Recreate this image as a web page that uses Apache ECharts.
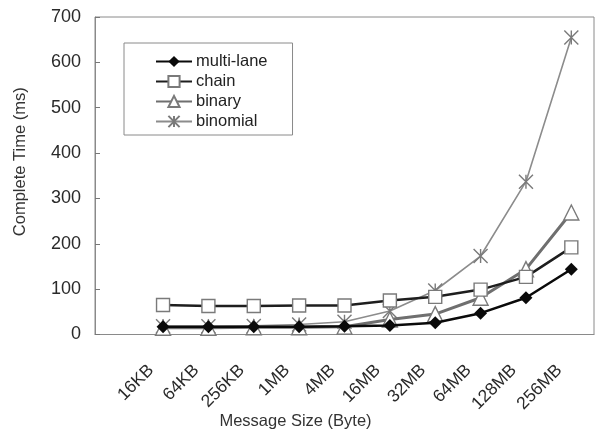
<!DOCTYPE html>
<html>
<head>
<meta charset="utf-8">
<script src="https://cdn.jsdelivr.net/npm/echarts@6/dist/echarts.min.js"></script>
<style>html,body{margin:0;padding:0;background:#fff;}#c{width:595px;height:435px;}</style>
</head>
<body>
<div id="c"></div>
<script>
var sizes = ['16KB', '64KB', '256KB', '1MB', '4MB', '16MB', '32MB', '64MB', '128MB', '256MB'];
var multiLane = [17, 17, 17, 17, 18, 20, 26, 47, 81, 144];
var chain = [65, 63, 63, 64, 64, 75, 83, 99, 127, 192];
var binary = [15, 15, 16, 16, 17, 33, 45, 81, 144, 269];
var binomial = [18, 18, 19, 22, 28, 52, 97, 173, 337, 655];
var yTicks = [0, 100, 200, 300, 400, 500, 600, 700];

var FONT = "'Liberation Sans', Arial, sans-serif";
var starPath = 'path://M0,0 L10,10 M10,0 L0,10 M5,0 L5,10';

function pad(arr) { return [null].concat(arr); }

var chart = echarts.init(document.getElementById('c'), null, { renderer: 'canvas' });
chart.setOption({
  animation: false,
  backgroundColor: '#ffffff',
  textStyle: { fontFamily: FONT },
  grid: { left: 95, right: 1, top: 17, bottom: 100.5, containLabel: false, outerBoundsMode: 'none', show: true, borderColor: '#8a8a8a', borderWidth: 1, backgroundColor: 'transparent' },
  legend: {
    orient: 'vertical',
    left: 124, top: 43,
    padding: [10, 25, 5, 31],
    itemGap: 3,
    itemWidth: 36, itemHeight: 14,
    borderColor: '#8a8a8a', borderWidth: 1,
    backgroundColor: '#fff',
    data: ['multi-lane', 'chain', 'binary', 'binomial'],
    textStyle: { fontSize: 16.5, color: '#222', fontFamily: FONT, padding: [0, 0, 0, -1] }
  },
  xAxis: {
    type: 'category',
    data: [''].concat(sizes),
    boundaryGap: true,
    name: 'Message Size (Byte)',
    nameLocation: 'middle',
    nameGap: 78,
    nameMoveOverlap: false,
    nameTextStyle: { fontSize: 16.5, color: '#333', fontFamily: FONT, padding: [0, 98, 0, 0] },
    axisLine: { lineStyle: { color: '#8a8a8a', width: 1 } },
    axisTick: { inside: true, length: 5, lineStyle: { color: '#777' } },
    axisLabel: { interval: 0, rotate: 45, fontSize: 17.5, color: '#2a2a2a', margin: 21, padding: [0, 17, 0, 0], fontFamily: FONT },
    splitLine: { show: false }
  },
  yAxis: {
    type: 'value',
    min: yTicks[0], max: yTicks[yTicks.length - 1], interval: 100,
    name: 'Complete Time (ms)',
    nameLocation: 'middle',
    nameGap: 66,
    nameRotate: 90,
    nameMoveOverlap: false,
    nameTextStyle: { fontSize: 16.5, color: '#333', fontFamily: FONT, padding: [0, 0, 0, 28] },
    axisLine: { show: true, lineStyle: { color: '#8a8a8a', width: 1 } },
    axisTick: { show: true, inside: true, length: 5, lineStyle: { color: '#777' } },
    axisLabel: { fontSize: 18, color: '#2a2a2a', margin: 14, fontFamily: FONT },
    splitLine: { show: false }
  },
  series: [
    {
      name: 'binomial', type: 'line', data: pad(binomial), z: 2,
      symbol: starPath, symbolSize: 14, showSymbol: true,
      lineStyle: { color: '#8c8c8c', width: 1.6 },
      itemStyle: { color: 'rgba(0,0,0,0)', borderColor: '#7a7a7a', borderWidth: 1.4 }
    },
    {
      name: 'binary', type: 'line', data: pad(binary), z: 3,
      symbol: 'triangle', symbolSize: 15,
      lineStyle: { color: '#6f6f6f', width: 3 },
      itemStyle: { color: '#ffffff', borderColor: '#7a7a7a', borderWidth: 1.4 }
    },
    {
      name: 'chain', type: 'line', data: pad(chain), z: 4,
      symbol: 'rect', symbolSize: 13,
      lineStyle: { color: '#1e1e1e', width: 2.5 },
      itemStyle: { color: '#ffffff', borderColor: '#7a7a7a', borderWidth: 1.4 }
    },
    {
      name: 'multi-lane', type: 'line', data: pad(multiLane), z: 5,
      symbol: 'diamond', symbolSize: 13,
      lineStyle: { color: '#0a0a0a', width: 2.5 },
      itemStyle: { color: '#0a0a0a', borderColor: '#0a0a0a', borderWidth: 0 }
    }
  ]
});
</script>
</body>
</html>
